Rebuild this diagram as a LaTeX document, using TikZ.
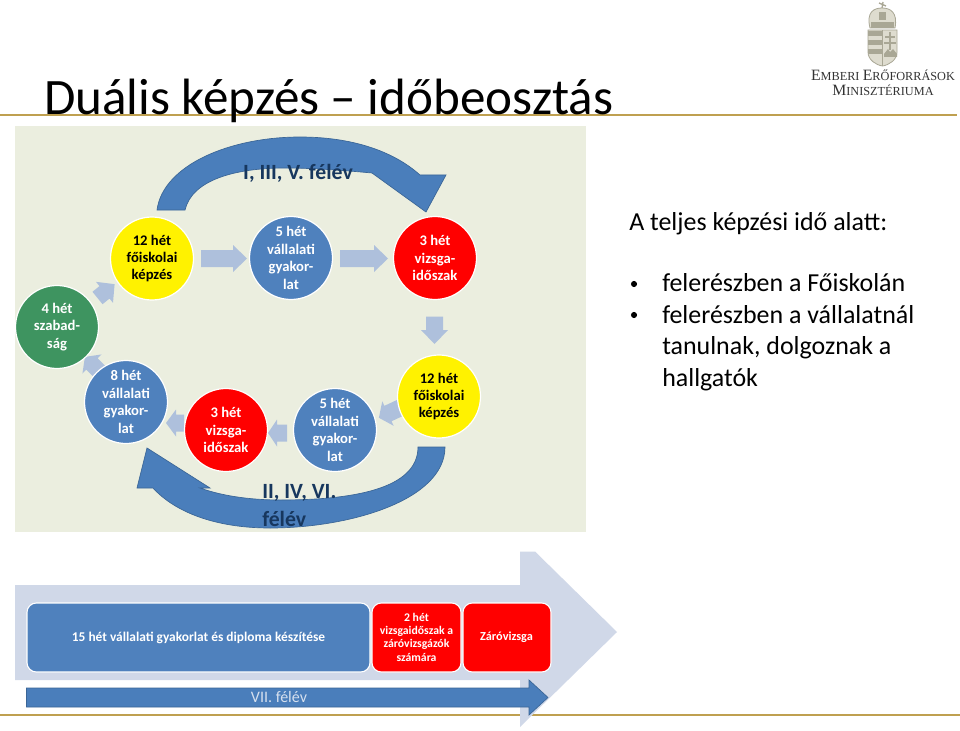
\documentclass[tikz,border=0pt]{standalone}
\usepackage{fontspec}
\setmainfont{Carlito}
\newfontfamily\logofont{Liberation Serif}
\definecolor{bgpanel}{HTML}{EBEEDF}
\definecolor{bluefill}{HTML}{4F81BD}
\definecolor{bigblue}{HTML}{4A7EBB}
\definecolor{edgeblue}{HTML}{3A6596}
\definecolor{lightarrow}{HTML}{AEC0DC}
\definecolor{greenfill}{HTML}{3E9460}
\definecolor{goldline}{HTML}{BFA050}
\definecolor{bandfill}{HTML}{D0D8E8}
\definecolor{labelblue}{HTML}{17375E}
\definecolor{crestdark}{HTML}{A9A795}
\definecolor{crestlight}{HTML}{DEDCCF}
\definecolor{logotext}{HTML}{333333}
\definecolor{semlight}{HTML}{D6E0EE}
\tikzset{
  x=0.75pt,y=-0.75pt,
  circ/.style={circle,draw=white,line width=0.9pt,minimum size=83*0.75pt,inner sep=0pt,align=center,font=\fontsize{11pt}{13.1pt}\selectfont\bfseries},
  bluecirc/.style={circ,fill=bluefill,text=white},
  redcirc/.style={circ,fill=red,text=white},
  yellowcirc/.style={circ,fill=yellow,text=black},
  greencirc/.style={circ,fill=greenfill,text=white},
  bigarrow/.style={fill=bigblue,draw=edgeblue,line width=0.5pt},
  smallarrow/.style={fill=lightarrow,draw=none},
  barbox/.style={rounded corners=7pt,draw=white,line width=0.8pt},
  bartext/.style={text=white,align=center,inner sep=0pt,font=\fontsize{8.8pt}{10pt}\selectfont\bfseries},
  felev/.style={text=labelblue,font=\fontsize{16.3pt}{21pt}\selectfont\bfseries,inner sep=0pt},
  goldrule/.style={draw=goldline,line width=1.1pt},
  body/.style={font=\fontsize{19.45pt}{23.6pt}\selectfont,inner sep=0pt,anchor=base west},
  bulletdot/.style={circle,fill=black,inner sep=0pt,minimum size=4.6pt},
  logoline/.style={text=logotext,inner sep=0pt,anchor=base},
}
\newcommand{\blockarrow}[6]{%
  \begin{scope}[shift={(#1,#2)},rotate=#3]
    \fill[smallarrow] (0,-#5) -- (#4-#6,-#5) -- (#4-#6,-13.5) -- (#4,0) -- (#4-#6,13.5) -- (#4-#6,#5) -- (0,#5) -- cycle;
  \end{scope}}
\newcommand{\lbig}[1]{{\fontsize{11.8pt}{12pt}\selectfont #1}}
\begin{document}
\begin{tikzpicture}
\useasboundingbox (0,0) rectangle (960,731);
\fill[white] (0,0) rectangle (960,731);
% header
\coordinate (ruleTL) at (0,115); \coordinate (ruleTR) at (957,115);
\draw[goldrule] (ruleTL) -- (ruleTR);
\node[anchor=base west,inner sep=0pt,font=\fontsize{38.3pt}{40pt}\selectfont,text=black] (title) at (44,115) {Duális képzés – időbeosztás};
% crest
\fill[crestlight] (868,30) -- (897,30) -- (897,52) .. controls (897,60) and (889,65) .. (882.5,66) .. controls (876,65) and (868,60) .. (868,52) -- cycle;
\fill[crestdark] (868,31) rectangle (882,36);
\fill[crestdark] (868,40) rectangle (882,45);
\fill[crestdark] (868,49) rectangle (882,54);
\draw[crestdark,line width=1.4pt] (890,32) -- (890,50) (885,37) -- (895,37) (884,43) -- (896,43);
\fill[crestdark] (884,54) -- (888,49) -- (890,52) -- (893,49) -- (897,54) -- (897,57) -- (884,57) -- cycle;
\draw[crestdark,line width=0.6pt] (868,30) -- (897,30) -- (897,52) .. controls (897,60) and (889,65) .. (882.5,66) .. controls (876,65) and (868,60) .. (868,52) -- cycle (882.5,30) -- (882.5,66);
\fill[crestlight,draw=crestdark,line width=0.6pt] (870,28) .. controls (866,12) and (874,8) .. (882,8) .. controls (890,8) and (898,12) .. (895,28) -- cycle;
\fill[crestdark] (871,22) rectangle (894,28);
\fill[crestdark] (879,12) rectangle (886,20);
\draw[crestdark,line width=1pt] (882,8) -- (883,2) (879,3) -- (886,6);
% logo text
\node[logoline,font=\logofont] (logoA) at (883,81) {\lbig{E}{\fontsize{9.2pt}{10pt}\selectfont MBERI} \lbig{E}{\fontsize{9.2pt}{10pt}\selectfont RŐFORRÁSOK}};
\node[logoline,font=\logofont] (logoB) at (883,96) {\lbig{M}{\fontsize{9.2pt}{10pt}\selectfont INISZTÉRIUMA}};
% panel
\fill[bgpanel] (15,126) rectangle (586,532);
% top curved arrow
\path[bigarrow] (157,210) .. controls (163,165) and (230,137) .. (300,137)
  .. controls (350,137) and (392,150) .. (420,175) -- (446,175) -- (426,212) -- (372,173)
  .. controls (340,170) and (310,168) .. (285,168) .. controls (235,168) and (192,180) .. (185,210) -- cycle;
% bottom curved arrow
\path[bigarrow] (445,447) .. controls (445,500) and (350,528) .. (270,528)
  .. controls (215,528) and (175,512) .. (153,488) -- (137,488) -- (147,448) -- (210,488) -- (200,488)
  .. controls (225,497) and (255,500) .. (280,500) .. controls (350,500) and (418,490) .. (418,447) -- cycle;
% small arrows
\blockarrow{201}{258.5}{0}{46}{8.5}{14}
\blockarrow{340}{258.5}{0}{48}{8.5}{14}
\blockarrow{434.5}{316.5}{-90}{27.5}{8.5}{14}
\blockarrow{402}{407}{205}{25.5}{8.5}{10}
\blockarrow{287}{433}{180}{19}{8.5}{9}
\blockarrow{184}{423}{180}{18}{8.5}{10}
\blockarrow{104}{376}{135}{27}{8}{10}
\blockarrow{97.5}{298}{39}{22}{8}{13}
% labels of the cycle
\node[felev] (lab1) at (298,173) {I, III, V. félév};
\node[felev,align=left,anchor=north west] (lab2) at (262,484) {II, IV, VI.\\félév};
% circles
\node[greencirc] (c1) at (57,327) {4 hét\\szabad-\\ság};
\node[yellowcirc] (c2) at (152,258.5) {12 hét\\főiskolai\\képzés};
\node[bluecirc] (c3) at (291,258) {5 hét\\vállalati\\gyakor-\\lat};
\node[redcirc] (c4) at (435,258) {3 hét\\vizsga-\\időszak};
\node[yellowcirc] (c5) at (439,396.5) {12 hét\\főiskolai\\képzés};
\node[bluecirc] (c6) at (335,430) {5 hét\\vállalati\\gyakor-\\lat};
\node[redcirc] (c7) at (226,430) {3 hét\\vizsga-\\időszak};
\node[bluecirc] (c8) at (126,402) {8 hét\\vállalati\\gyakor-\\lat};
% right text
\node[body] (t1) at (629,230) {A teljes képzési idő alatt:};
\node[body] (t2) at (662,291.5) {felerészben a Főiskolán};
\node[body,align=left,anchor=north west] (t3) at (662,305) {felerészben a vállalatnál\\tanulnak, dolgoznak a\\hallgatók};
\node[bulletdot] (b1) at (634,284) {};
\node[bulletdot] (b2) at (634,315) {};
% bottom rule and band
\coordinate (ruleBL) at (0,715); \coordinate (ruleBR) at (960,715);
\draw[goldrule] (ruleBL) -- (ruleBR);
\fill[bandfill] (15,585) -- (520,585) -- (520,551.5) -- (535,551.5) -- (617,632) -- (520,727) -- (520,680) -- (15,680) -- cycle;
% bars
\draw[barbox,fill=bluefill] (27,603) rectangle (370,672);
\draw[barbox,fill=red] (372,603) rectangle (461,672);
\draw[barbox,fill=red] (463,603) rectangle (551,672);
\node[bartext,font=\fontsize{10.05pt}{12pt}\selectfont\bfseries] (s1) at (198.5,637.5) {15 hét vállalati gyakorlat és diploma készítése};
\node[bartext] (s2) at (416.5,637) {2 hét\\vizsgaidőszak a\\záróvizsgázók\\számára};
\node[bartext,font=\fontsize{9.2pt}{10pt}\selectfont\bfseries] (s3) at (506.5,637) {Záróvizsga};
% semester arrow
\path[bigarrow] (26.5,688) -- (529,688) -- (529,680) -- (548,697.5) -- (529,715) -- (529,707) -- (26.5,707) -- cycle;
\node[inner sep=0pt,text=semlight,font=\fontsize{12pt}{13pt}\selectfont] (s4) at (279,697) {VII. félév};
\end{tikzpicture}
\end{document}
